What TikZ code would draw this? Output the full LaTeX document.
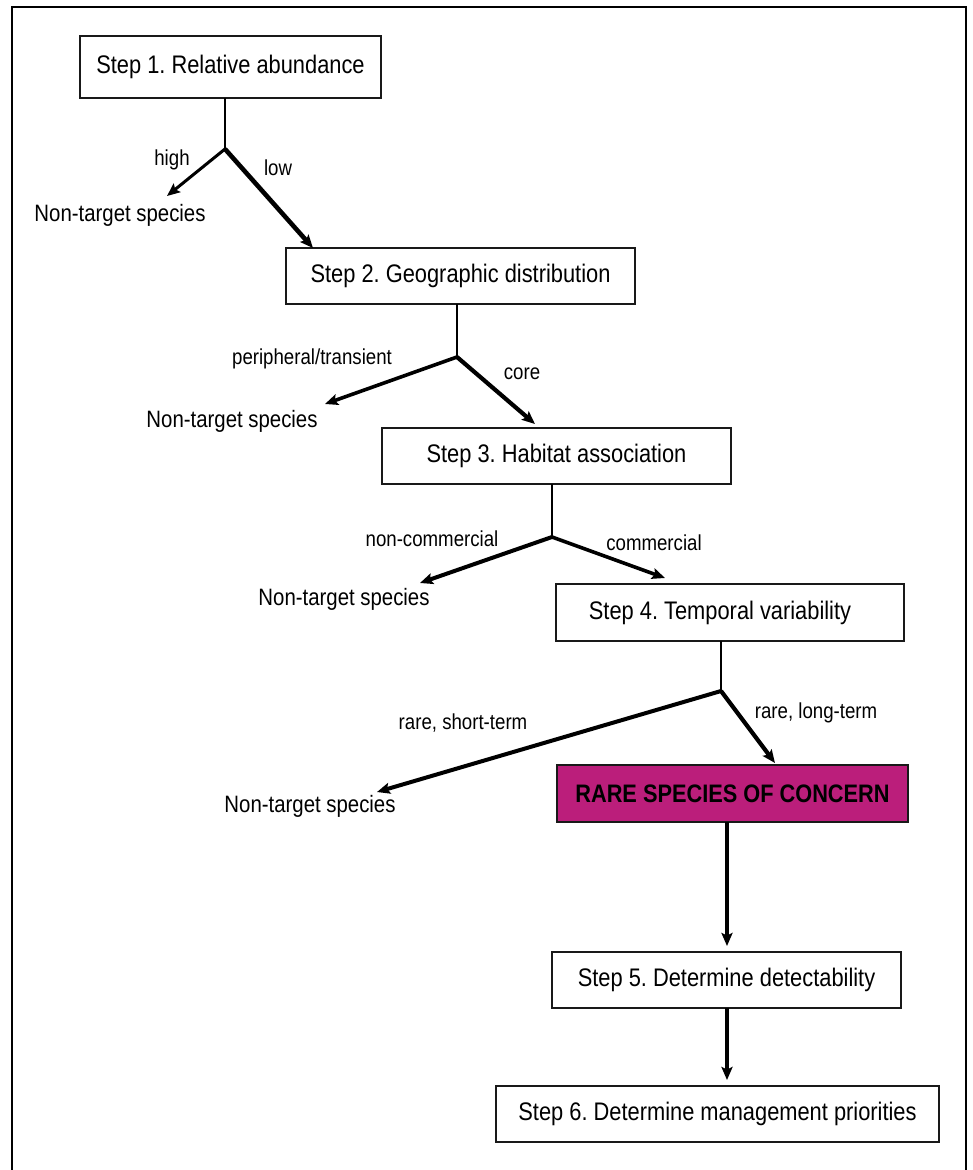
\documentclass[tikz,border=0pt]{standalone}
\usepackage{fontspec}
\setmainfont{Liberation Sans}[FakeStretch=0.86]
\usetikzlibrary{arrows.meta}
\definecolor{rarefill}{RGB}{187,30,123}
\frenchspacing
\begin{document}
\begin{tikzpicture}[x=1pt,y=-1pt,
  stepbox/.style={draw=black!90, line width=1.6pt, fill=white, inner sep=0pt, outer sep=0pt,
    font=\frenchspacing\fontsize{25.4}{30}\selectfont},
  rarebox/.style={stepbox, fill=rarefill, font=\fontsize{25.3}{30}\selectfont\bfseries},
  lab/.style={inner sep=0pt, font=\fontsize{21.7}{26}\selectfont},
  ntlab/.style={inner sep=0pt, font=\fontsize{23.7}{28}\selectfont},
  stem/.style={line width=1.4pt},
  arr/.style={line width=#1, -{Stealth[length=13pt,width=11pt,inset=2.5pt]}},
  arr/.default=3.8pt
]
\useasboundingbox (0,0) rectangle (972,1170);
\fill[white] (0,0) rectangle (972,1170);
% frame
\draw[line width=2.4pt, line cap=rect] (12,1175) -- (12,7) -- (966,7) -- (966,1175);

% boxes
\node[stepbox, minimum width=301, minimum height=62] (s1) at (230.5,67) {Step 1. Relative abundance};
\node[stepbox, minimum width=349, minimum height=56] (s2) at (460.5,276) {Step 2. Geographic distribution};
\node[stepbox, minimum width=349, minimum height=56] (s3) at (556.5,456) {Step 3. Habitat association};
\node[stepbox, minimum width=348, minimum height=57] (s4) at (730,612.5) {\hspace*{-20pt}Step 4. Temporal variability};
\node[rarebox, minimum width=351, minimum height=57] (rare) at (732.5,793.5) {RARE SPECIES OF CONCERN};
\node[stepbox, minimum width=349, minimum height=56] (s5) at (726.5,980) {Step 5. Determine detectability};
\node[stepbox, minimum width=443, minimum height=56] (s6) at (717.5,1114) {Step 6. Determine management priorities};

% non-target outcomes
\node[ntlab] (nt1) at (120,215) {Non-target species};
\node[ntlab] (nt2) at (232,421) {Non-target species};
\node[ntlab] (nt3) at (344,599) {Non-target species};
\node[ntlab] (nt4) at (310,806) {Non-target species};

% branch points and arrow ends
\coordinate (b1) at (225,149);
\coordinate (b2) at (457,357);
\coordinate (b3) at (552,537);
\coordinate (b4) at (721,691);
\coordinate (e1) at (167,196);
\coordinate (e2) at (313,248);
\coordinate (e3) at (325,404);
\coordinate (e4) at (535,424);
\coordinate (e5) at (420,583);
\coordinate (e6) at (665,578);
\coordinate (e7) at (377,792);
\coordinate (e8) at (775,763);

% stems
\draw[stem] (b1 |- s1.south) -- (b1);
\draw[stem] (b2 |- s2.south) -- (b2);
\draw[stem] (b3 |- s3.south) -- (b3);
\draw[stem] (b4 |- s4.south) -- (b4);

% branches
\draw[arr=3pt] (b1) -- (e1);
\draw[arr=4.6pt] (b1) -- (e2);
\draw[arr=3.6pt] (b2) -- (e3);
\draw[arr=4.2pt] (b2) -- (e4);
\draw[arr=4pt] (b3) -- (e5);
\draw[arr=3.6pt] (b3) -- (e6);
\draw[arr=4pt] (b4) -- (e7);
\draw[arr=4.2pt] (b4) -- (e8);

% vertical flow
\draw[arr=4.2pt] (rare.south -| 727,0) -- (727,946);
\draw[arr=4.2pt] (s5.south -| 727,0) -- (727,1080);

% labels
\node[lab] (lhigh) at (172,160) {high};
\node[lab] (llow) at (278,168) {low};
\node[lab] (lper) at (312,359) {peripheral/transient};
\node[lab] (lcore) at (522,374) {core};
\node[lab] (lnon) at (432,539) {non-commercial};
\node[lab] (lcom) at (654,543) {commercial};
\node[lab] (lshort) at (463,723) {rare, short-term};
\node[lab] (llong) at (816,713) {rare, long-term};
\end{tikzpicture}
\end{document}
